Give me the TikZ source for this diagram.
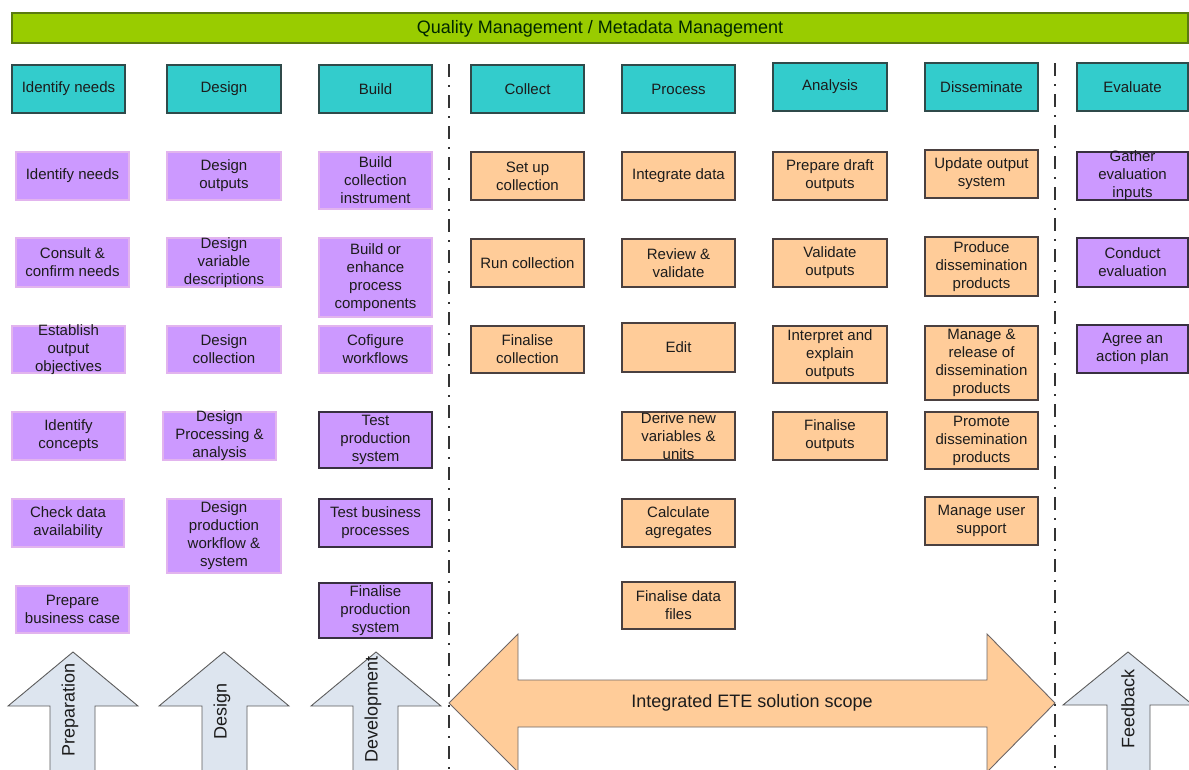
\documentclass[tikz,border=0pt]{standalone}
\usepackage{fontspec}
\setmainfont{Liberation Sans}
\definecolor{barGreen}{HTML}{99CC00}
\definecolor{barEdge}{HTML}{5A7A10}
\definecolor{teal}{HTML}{33CCCC}
\definecolor{tealEdge}{HTML}{2F4A4A}
\definecolor{lilac}{HTML}{CC99FF}
\definecolor{lilacEdge}{HTML}{E2B4EE}
\definecolor{darkEdge}{HTML}{383040}
\definecolor{peach}{HTML}{FFCC99}
\definecolor{peachEdge}{HTML}{4A4040}
\definecolor{phaseFill}{HTML}{DDE5EF}
\definecolor{phaseEdge}{HTML}{5C5C5C}
\definecolor{ink}{HTML}{1C1C1C}
% box with its corners given, text centred in it (text may overflow)
\newcommand\procbox[7]{%
  \path[#1] (#3,#4) rectangle (#5,#6);
  \node[txt] (#2) at ({(#3+#5)/2},{(#4+#6)/2}) {#7};}
\begin{document}
\begin{tikzpicture}[x=1pt,y=-1pt,
  txt/.style={inner sep=0pt, align=center, text=ink, font=\fontsize{15}{18}\selectfont},
  bigtxt/.style={inner sep=0pt, align=center, text=ink, font=\fontsize{18}{21}\selectfont},
  hdr/.style={fill=teal, draw=tealEdge, line width=1.3pt},
  plight/.style={fill=lilac, draw=lilacEdge, line width=1.3pt},
  pdark/.style={fill=lilac, draw=darkEdge, line width=1.3pt},
  orng/.style={fill=peach, draw=peachEdge, line width=1.3pt},
  phase/.style={fill=phaseFill, draw=phaseEdge, line width=0.9pt, line join=miter},
  scope/.style={fill=peach, draw=peachEdge!80, line width=0.9pt, line join=miter},
  sep/.style={draw=black!80, line width=2pt, dash pattern=on 13pt off 8pt on 1.5pt off 8.5pt}]
\useasboundingbox (0,0) rectangle (1189,769);
\clip (0,0) rectangle (1189,769);

% phase separators
\draw[sep] (449,64) -- (449,775);
\draw[sep] (1055,63) -- (1055,775);

% management bar
\path[fill=barGreen, draw=barEdge, line width=1.3pt] (12,13) rectangle (1188,43);
\node[bigtxt, text=black!85!green] (qm) at (600,28.5) {Quality Management / Metadata Management};

% phase headers
\procbox{hdr}{h1}{12}{65}{125}{113}{Identify needs}
\procbox{hdr}{h2}{167}{65}{281}{113}{Design}
\procbox{hdr}{h3}{319}{65}{432}{113}{Build}
\procbox{hdr}{h4}{471}{65}{584}{113}{Collect}
\procbox{hdr}{h5}{622}{65}{735}{113}{Process}
\procbox{hdr}{h6}{773}{63}{887}{111}{Analysis}
\procbox{hdr}{h7}{925}{63}{1038}{111}{Disseminate}
\procbox{hdr}{h8}{1077}{63}{1188}{111}{Evaluate}

% Identify needs
\procbox{plight}{a1}{16}{152}{129}{200}{Identify needs}
\procbox{plight}{a2}{16}{238}{129}{287}{Consult \&\\confirm needs}
\procbox{plight}{a3}{12}{326}{125}{373}{Establish\\output\\objectives}
\procbox{plight}{a4}{12}{412}{125}{460}{Identify\\concepts}
\procbox{plight}{a5}{12}{499}{124}{547}{Check data\\availability}
\procbox{plight}{a6}{16}{586}{129}{633}{Prepare\\business case}

% Design
\procbox{plight}{b1}{167}{152}{281}{200}{Design\\outputs}
\procbox{plight}{b2}{167}{238}{281}{287}{Design\\variable\\descriptions}
\procbox{plight}{b3}{167}{326}{281}{373}{Design\\collection}
\procbox{plight}{b4}{163}{412}{276}{460}{Design\\Processing \&\\analysis}
\procbox{plight}{b5}{167}{499}{281}{573}{Design\\production\\workflow \&\\system}

% Build
\procbox{plight}{c1}{319}{152}{432}{209}{Build\\collection\\instrument}
\procbox{plight}{c2}{319}{238}{432}{317}{Build or\\enhance\\process\\components}
\procbox{plight}{c3}{319}{326}{432}{373}{Cofigure\\workflows}
\procbox{pdark}{c4}{319}{412}{432}{468}{Test\\production\\system}
\procbox{pdark}{c5}{319}{499}{432}{547}{Test business\\processes}
\procbox{pdark}{c6}{319}{583}{432}{638}{Finalise\\production\\system}

% Collect
\procbox{orng}{d1}{471}{152}{584}{200}{Set up\\collection}
\procbox{orng}{d2}{471}{239}{584}{287}{Run collection}
\procbox{orng}{d3}{471}{326}{584}{373}{Finalise\\collection}

% Process
\procbox{orng}{e1}{622}{152}{735}{200}{Integrate data}
\procbox{orng}{e2}{622}{239}{735}{287}{Review \&\\validate}
\procbox{orng}{e3}{622}{323}{735}{372}{Edit}
\procbox{orng}{e4}{622}{412}{735}{460}{Derive new\\variables \&\\units}
\procbox{orng}{e5}{622}{499}{735}{547}{Calculate\\agregates}
\procbox{orng}{e6}{622}{582}{735}{629}{Finalise data\\files}

% Analysis
\procbox{orng}{f1}{773}{152}{887}{200}{Prepare draft\\outputs}
\procbox{orng}{f2}{773}{239}{887}{287}{Validate\\outputs}
\procbox{orng}{f3}{773}{326}{887}{383}{Interpret and\\explain\\outputs}
\procbox{orng}{f4}{773}{412}{887}{460}{Finalise\\outputs}

% Disseminate
\procbox{orng}{g1}{925}{150}{1038}{198}{Update output\\system}
\procbox{orng}{g2}{925}{237}{1038}{296}{Produce\\dissemination\\products}
\procbox{orng}{g3}{925}{326}{1038}{400}{Manage \&\\release of\\dissemination\\products}
\procbox{orng}{g4}{925}{412}{1038}{469}{Promote\\dissemination\\products}
\procbox{orng}{g5}{925}{497}{1038}{545}{Manage user\\support}

% Evaluate
\procbox{pdark}{k1}{1077}{152}{1188}{200}{Gather\\evaluation\\inputs}
\procbox{pdark}{k2}{1077}{238}{1188}{287}{Conduct\\evaluation}
\procbox{pdark}{k3}{1077}{325}{1188}{373}{Agree an\\action plan}

% phase arrows
\path[phase] (73,652) -- (138,706) -- (95,706) -- (95,780) -- (50,780) -- (50,706) -- (8,706) -- cycle;
\path[phase] (224,652) -- (289,706) -- (247,706) -- (247,780) -- (202,780) -- (202,706) -- (159,706) -- cycle;
\path[phase] (376,652) -- (441,706) -- (398,706) -- (398,780) -- (353,780) -- (353,706) -- (311,706) -- cycle;
\path[phase] (1128,652) -- (1193,705) -- (1150,705) -- (1150,780) -- (1107,780) -- (1107,705) -- (1063,705) -- cycle;
\node[bigtxt, rotate=90] (lprep) at (70,710) {Preparation};
\node[bigtxt, rotate=90] (ldes) at (222,711) {Design};
\node[bigtxt, rotate=90] (ldev) at (373,709) {Development};
\node[bigtxt, rotate=90] (lfb) at (1128,709) {Feedback};

% solution scope
\path[scope] (449,703) -- (518,634) -- (518,680) -- (987,680) -- (987,634) -- (1055,703)
  -- (987,772) -- (987,727) -- (518,727) -- (518,772) -- cycle;
\node[bigtxt] (ete) at (752,703) {Integrated ETE solution scope};
\end{tikzpicture}
\end{document}
